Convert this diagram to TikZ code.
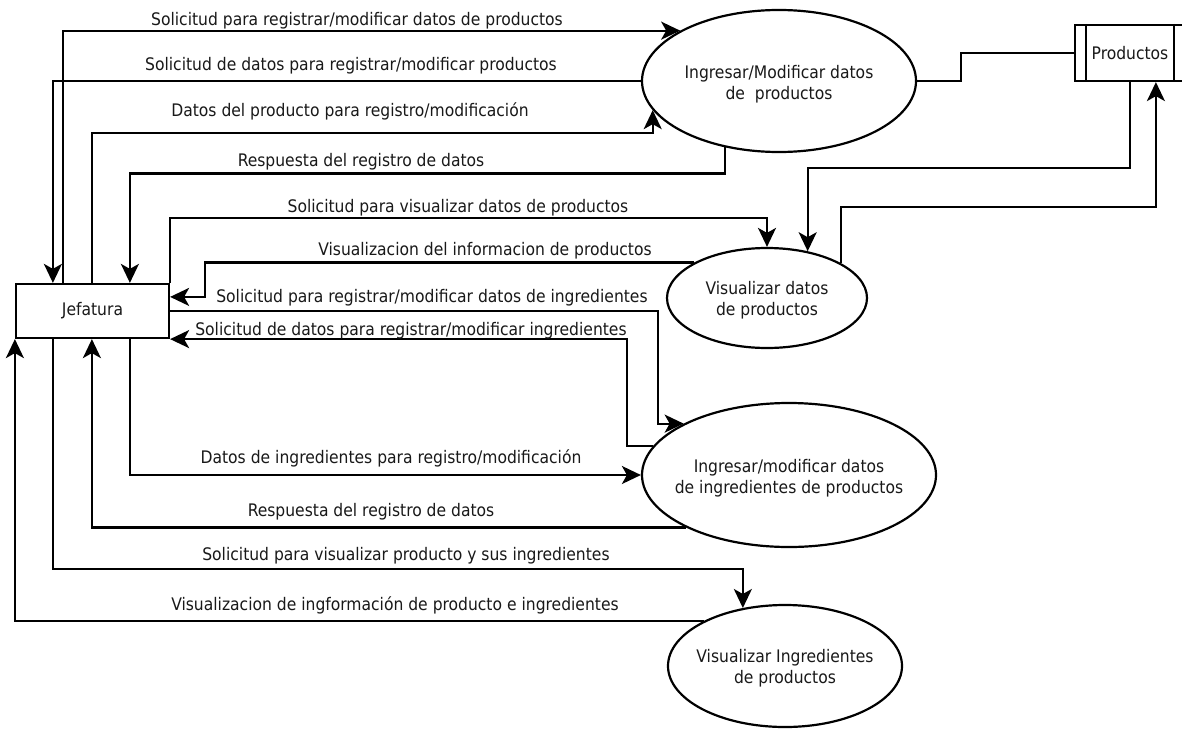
\documentclass[tikz,border=0pt]{standalone}
\usepackage{fontspec}
\setmainfont{DejaVu Sans Condensed}
\usetikzlibrary{shapes.geometric,arrows.meta}

\begin{document}
\begin{tikzpicture}[x=1pt,y=-1pt,
  font=\fontsize{17.3}{21}\selectfont,
  txt/.style={text=black!90},
  conn/.style={line width=2.2pt, draw=black},
  flow/.style={conn, -{Stealth[length=19pt,width=18pt,inset=5pt]}},
  proc/.style={ellipse, draw, line width=2.2pt, inner sep=0pt, fill=white},
  ent/.style={rectangle, draw, line width=2.2pt, inner sep=0pt, txt},
  lbl/.style={inner sep=0pt, anchor=base, txt},
  ptext/.style={align=center, inner sep=0pt, txt}]

\clip (0,0) rectangle (1182,728);
\fill[white] (0,0) rectangle (1182,728);

% external entity and data store
\node[ent, minimum width=153pt, minimum height=54pt] (jef) at (92.5,311) {Jefatura};
\node[ent, minimum width=110pt, minimum height=56pt] (prod) at (1130,53) {Productos};
\draw[conn] ([xshift=12pt]prod.north west) -- ([xshift=12pt]prod.south west);
\draw[conn] ([xshift=-12pt]prod.north east) -- ([xshift=-12pt]prod.south east);

% processes
\node[proc, minimum width=274pt, minimum height=142pt,
  label={[ptext, yshift=-3pt]center:{Ingresar/Modificar datos\\de\ \ productos}}] (e1) at (779,81) {};
\node[proc, minimum width=200pt, minimum height=100pt,
  label={[ptext, yshift=-2pt]center:{Visualizar datos\\de productos}}] (e2) at (767,298) {};
\node[proc, minimum width=294pt, minimum height=144pt,
  label={[ptext, yshift=-3pt]center:{Ingresar/modificar datos\\de ingredientes de productos}}] (e3) at (789,475) {};
\node[proc, minimum width=234pt, minimum height=122pt,
  label={[ptext, yshift=-2pt]center:{Visualizar Ingredientes\\de productos}}] (e4) at (785,666) {};

% Jefatura <-> Ingresar/Modificar datos de productos
\draw[flow] ([xshift=48pt]jef.north west) |- (e1.153.7);
\draw[flow] (e1.west) -| ([xshift=38pt]jef.north west);
\draw[flow] ([xshift=77pt]jef.north west) -- ++(0,-150) -| (e1.193.7);
\draw[flow] (e1.231.6) -- ++(0,26) -| ([xshift=115pt]jef.north west);

% Jefatura <-> Visualizar datos de productos
\draw[flow] (jef.north east) -- ++(0,-65) -| (e2.north);
\draw[flow] (e2.154.3) -| ([xshift=35pt,yshift=-14pt]jef.north east) -- ([yshift=-14pt]jef.north east);

% Productos store
\draw[conn] (e1.east) -- ++(44,0) |- (prod.west);
\draw[flow] (prod.south) -- ++(0,86) -| (e2.49.7);
\draw[flow] (e2.25.7) -- ++(0,-56) -| ([xshift=82pt]prod.south west);

% Jefatura <-> Ingresar/modificar datos de ingredientes
\draw[flow] ([yshift=-28pt]jef.north east) -- ++(488,0) |- (e3.154.8);
\draw[flow] (e3.168.3) -- ++(-25.6,0) |- (jef.south east);
\draw[flow] ([xshift=115pt]jef.south west) |- (e3.west);
\draw[flow] (e3.207.1) -| ([xshift=77pt]jef.south west);

% Jefatura <-> Visualizar Ingredientes de productos
\draw[flow] ([xshift=38pt]jef.south west) -- ++(0,230) -| (e4.126.4);
\draw[flow] (e4.151.5) -| (jef.south west);

% flow labels
\node[lbl] (l1) at (357,25) {Solicitud para registrar/modificar datos de productos};
\node[lbl] (l2) at (351,70) {Solicitud de datos para registrar/modificar productos};
\node[lbl] (l3) at (350,116) {Datos del producto para registro/modificación};
\node[lbl] (l4) at (361,166) {Respuesta del registro de datos};
\node[lbl] (l5) at (458,212) {Solicitud para visualizar datos de productos};
\node[lbl] (l6) at (485,255) {Visualizacion del informacion de productos};
\node[lbl] (l7) at (432,302) {Solicitud para registrar/modificar datos de ingredientes};
\node[lbl] (l8) at (411,335) {Solicitud de datos para registrar/modificar ingredientes};
\node[lbl] (l9) at (391,463) {Datos de ingredientes para registro/modificación};
\node[lbl] (l10) at (371,516) {Respuesta del registro de datos};
\node[lbl] (l11) at (406,560) {Solicitud para visualizar producto y sus ingredientes};
\node[lbl] (l12) at (395,610) {Visualizacion de ingformación de producto e ingredientes};

\end{tikzpicture}
\end{document}
